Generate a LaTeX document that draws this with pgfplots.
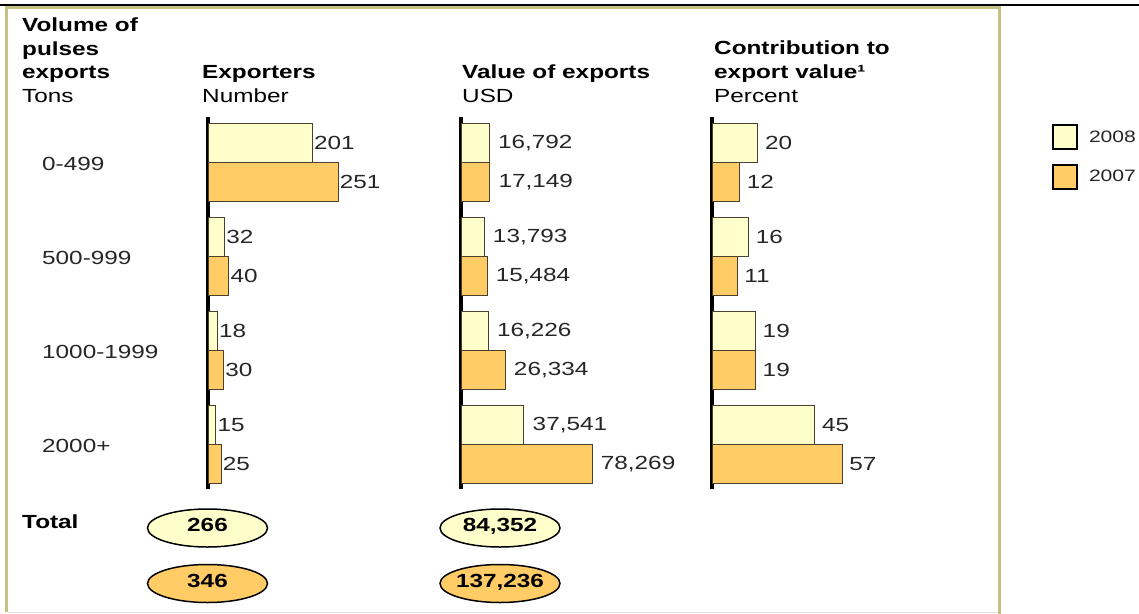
\documentclass[border=0pt]{standalone}
\usepackage{pgfplots}
\usepackage{pgfplotstable}
\pgfplotsset{compat=1.18}
\usepackage{fontspec}
\setmainfont{Liberation Sans}[FakeStretch=1.28]
\usetikzlibrary{shapes.geometric}
\definecolor{cA}{HTML}{FFFFCC}
\definecolor{cB}{HTML}{FFCC66}
\definecolor{framecol}{HTML}{C4C282}
\definecolor{barline}{HTML}{4A4030}
\newcommand\lf{\fontsize{19bp}{23bp}\selectfont}
\newcommand\bfn{\fontsize{19bp}{23bp}\selectfont\bfseries}

\pgfplotstableread{
cat v8 v7
0 201 251
1 32 40
2 18 30
3 15 25
}\exporters
\pgfplotstableread{
cat v8 v7
0 16792 17149
1 13793 15484
2 16226 26334
3 37541 78269
}\valuetab
\pgfplotstableread{
cat v8 v7
0 20 12
1 16 11
2 19 19
3 45 57
}\percenttab

\pgfplotsset{
 /pgf/number format/assume math mode=true,
 panel/.style={
  xbar, scale only axis, height=372bp, xmin=0, ymin=-0.48, ymax=3.477, y dir=reverse,
  axis x line=none, axis y line*=left,
  y axis line style={line width=3.5bp, -},
  ytick=\empty, major tick length=0pt, bar width=39bp, clip=false,
  nodes near coords,
  every node near coord/.append style={font=\lf, inner sep=0pt, anchor=west, text=black!85},
  anchor=north west,
 },
 s8/.style={fill=cA, draw=barline, line width=0.8bp, bar shift=19.5bp},
 s7/.style={fill=cB, draw=barline, line width=0.8bp, bar shift=-19.5bp},
}

\begin{document}
\begin{tikzpicture}
\useasboundingbox (0,0) rectangle (1139bp,-614bp);
% frame
\draw[framecol, line width=3bp] (6.5bp,-612bp) -- (6.5bp,-7bp) -- (999.8bp,-7bp) -- (999.8bp,-614bp);
\draw[black!12, line width=1bp] (8bp,-612.5bp) -- (998bp,-612.5bp);
\draw[black, line width=2.6bp] (0,-5bp) -- (1139bp,-5bp);

% headers
\node[anchor=base west, inner sep=0, font=\bfn] at (22bp,-31bp) {Volume of};
\node[anchor=base west, inner sep=0, font=\bfn] at (22bp,-55bp) {pulses};
\node[anchor=base west, inner sep=0, font=\bfn] at (22bp,-78bp) {exports};
\node[anchor=base west, inner sep=0, font=\lf] at (22bp,-102bp) {Tons};
\node[anchor=base west, inner sep=0, font=\bfn] at (202bp,-78bp) {Exporters};
\node[anchor=base west, inner sep=0, font=\lf] at (202bp,-102bp) {Number};
\node[anchor=base west, inner sep=0, font=\bfn] at (462bp,-78bp) {Value of exports};
\node[anchor=base west, inner sep=0, font=\lf] at (462bp,-102bp) {USD};
\node[anchor=base west, inner sep=0, font=\bfn] at (714bp,-54bp) {Contribution to};
\node[anchor=base west, inner sep=0, font=\bfn] at (714bp,-78bp) {export value¹};
\node[anchor=base west, inner sep=0, font=\lf] at (714bp,-102bp) {Percent};

% exporters
\begin{axis}[panel, at={(208bp,-117bp)}, width=199.92bp, xmax=386,
  ytick={0,1,2,3}, yticklabels={0-499,500-999,1000-1999,2000+},
  yticklabel style={font=\lf, anchor=west, inner sep=0pt, xshift=-166bp, yshift=-1.5bp, text=black!85},
  every node near coord/.append style={xshift=1.5bp}]
\addplot[s8] table[x=v8,y=cat]{\exporters};
\addplot[s7] table[x=v7,y=cat]{\exporters};
\end{axis}

% value
\begin{axis}[panel, at={(461bp,-117bp)}, width=217.6bp, xmax=130000,
  nodes near coords={\pgfmathprintnumber[fixed, precision=0, 1000 sep={,}]{\pgfplotspointmeta}},
  every node near coord/.append style={xshift=8.5bp}]
\addplot[s8] table[x=v8,y=cat]{\valuetab};
\addplot[s7] table[x=v7,y=cat]{\valuetab};
\end{axis}

% percent
\begin{axis}[panel, at={(712bp,-117bp)}, width=250.88bp, xmax=110,
  every node near coord/.append style={xshift=7bp},
  legend style={at={(axis description cs:1.3552,0.981)}, anchor=north west, draw=none, fill=none,
    inner sep=0pt, font=\fontsize{16.5bp}{20bp}\selectfont, row sep=14bp,
    nodes={inner sep=0pt, text=black!85},
    /tikz/every odd column/.append style={column sep=11bp}},
  legend image code/.code={\draw[#1, line width=1.8bp, draw=black] (0bp,-12bp) rectangle (24bp,12bp);}]
\addplot[s8] table[x=v8,y=cat]{\percenttab};
\addplot[s7] table[x=v7,y=cat]{\percenttab};
\legend{2008,2007}
\end{axis}

% totals
\node[anchor=base west, inner sep=0, font=\bfn] at (22bp,-528bp) {Total};
\draw[line width=1.5bp, fill=cA] (207.5bp,-528bp) ellipse [x radius=60bp, y radius=19bp];
\draw[line width=1.5bp, fill=cB] (207.5bp,-583.5bp) ellipse [x radius=60bp, y radius=19bp];
\draw[line width=1.5bp, fill=cA] (500bp,-528bp) ellipse [x radius=60bp, y radius=19bp];
\draw[line width=1.5bp, fill=cB] (500bp,-583.5bp) ellipse [x radius=60bp, y radius=19bp];
\node[anchor=base, inner sep=0, font=\bfn] at (207.5bp,-531bp) {266};
\node[anchor=base, inner sep=0, font=\bfn] at (207.5bp,-587bp) {346};
\node[anchor=base, inner sep=0, font=\bfn] at (500bp,-531bp) {84,352};
\node[anchor=base, inner sep=0, font=\bfn] at (500bp,-587bp) {137,236};
\end{tikzpicture}
\end{document}
